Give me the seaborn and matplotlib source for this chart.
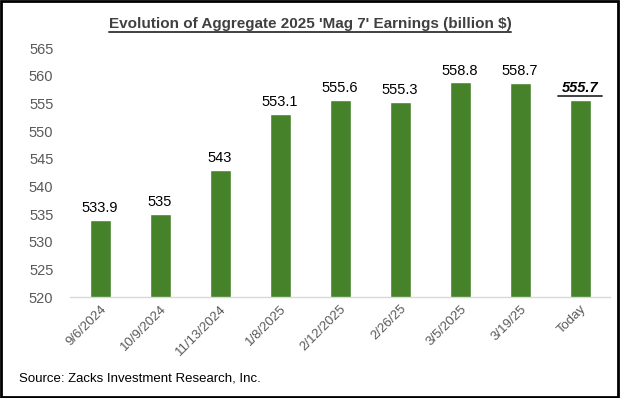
import matplotlib
matplotlib.use("Agg")
import matplotlib.pyplot as plt
import seaborn as sns
import pandas as pd
from matplotlib.lines import Line2D
from matplotlib.patches import Rectangle

dates = ["9/6/2024", "10/9/2024", "11/13/2024", "1/8/2025", "2/12/2025",
         "2/26/25", "3/5/2025", "3/19/25", "Today"]
earnings = [533.9, 535.0, 543.0, 553.1, 555.6, 555.3, 558.8, 558.7, 555.7]
bar_labels = ["533.9", "535", "543", "553.1", "555.6", "555.3", "558.8", "558.7", "555.7"]
yticks = [520, 525, 530, 535, 540, 545, 550, 555, 560, 565]

sns.set_style("white")
plt.rcParams["font.family"] = ["Liberation Sans", "DejaVu Sans"]

df = pd.DataFrame({"date": dates, "value": earnings})

fig = plt.figure(figsize=(6.2, 3.98), dpi=100)
ax = fig.add_axes([0.113, 0.253, 0.871, 0.626])

sns.barplot(data=df, x="date", y="value", color="#46822A", saturation=1,
            width=0.35, ax=ax)

ax.set_ylim(520, 565)
ax.set_yticks(yticks)
ax.set_xlim(-0.5, len(dates) - 0.5)
ax.set_xlabel("")
ax.set_ylabel("")
ax.tick_params(axis="y", labelsize=10.5, labelcolor="#595959", length=0, pad=12)
ax.tick_params(axis="x", labelsize=9.5, labelcolor="#595959", length=0, pad=4)
plt.setp(ax.get_xticklabels(), rotation=45, ha="right", rotation_mode="anchor")
for s in ["top", "right", "left"]:
    ax.spines[s].set_visible(False)
ax.spines["bottom"].set_color("#D9D9D9")
ax.spines["bottom"].set_linewidth(1.0)

texts = []
for i, (v, lab) in enumerate(zip(earnings, bar_labels)):
    last = i == len(earnings) - 1
    t = ax.text(i, v + 0.9, lab, ha="center", va="bottom", fontsize=10.5,
                color="black", fontweight="bold" if last else "normal",
                fontstyle="italic" if last else "normal")
    texts.append(t)

title = fig.text(0.5, 0.94, "Evolution of Aggregate 2025 'Mag 7' Earnings (billion $)",
                 ha="center", va="center", fontsize=11, fontweight="bold",
                 color="#404040")
fig.text(0.03, 0.05, "Source: Zacks Investment Research, Inc.", ha="left",
         va="center", fontsize=9.5, color="black")

# underline title and last label
fig.canvas.draw()
renderer = fig.canvas.get_renderer()
for t, pad in [(title, 0.0), (texts[-1], 0.006)]:
    bb = t.get_window_extent(renderer).transformed(fig.transFigure.inverted())
    y = bb.y0 - 0.004
    fig.add_artist(Line2D([bb.x0 - pad, bb.x1 + pad], [y, y], color="#404040",
                          lw=1.4, transform=fig.transFigure))

fig.add_artist(Rectangle((0.002, 0.003), 0.995, 0.994, fill=False,
                         edgecolor="black", lw=2, transform=fig.transFigure))

fig.savefig("out.png", dpi=100)
